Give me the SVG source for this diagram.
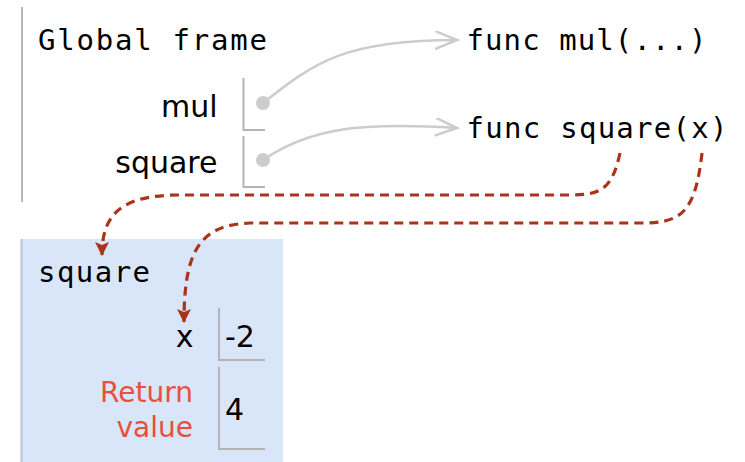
<svg xmlns="http://www.w3.org/2000/svg" width="745" height="462" viewBox="0 0 745 462">
<style>
.mono{font-family:"DejaVu Sans Mono","Liberation Mono",monospace;font-size:29px;fill:#000}
.sans{font-family:"DejaVu Sans","Liberation Sans",sans-serif;font-size:30px;fill:#000}
.val{font-family:"DejaVu Sans","Liberation Sans",sans-serif;font-size:30px;fill:#000}
.ret{font-family:"DejaVu Sans","Liberation Sans",sans-serif;font-size:28px;fill:#e8503a}
.cell{fill:none;stroke:#b4b4b4;stroke-width:2}
.ptr{fill:none;stroke:#cccccc;stroke-width:2.5}
.dot{fill:#cccccc}
.link{fill:none;stroke:#a8341a;stroke-width:3.2;stroke-dasharray:9,6}
</style>
<defs>
<marker id="open" markerUnits="userSpaceOnUse" markerWidth="30" markerHeight="30" refX="22" refY="9" orient="auto">
<path d="M0,0 L22,9 L0,18" fill="none" stroke="#cccccc" stroke-width="2.5"/>
</marker>
<marker id="tri" markerUnits="userSpaceOnUse" markerWidth="20" markerHeight="20" refX="13" refY="7" orient="auto">
<path d="M0,0 L14,7 L0,14 L3,7 Z" fill="#a8341a"/>
</marker>
</defs>
<rect width="745" height="462" fill="#ffffff"/>

<g id="global-frame">
<line x1="22" y1="7" x2="22" y2="202" stroke="#b8b8b8" stroke-width="2"/>
<text class="mono" x="38" y="50" textLength="229" lengthAdjust="spacing">Global frame</text>
<text class="sans" x="217.5" y="117" text-anchor="end">mul</text>
<path class="cell" d="M243.5,78 V130 H265"/>
<circle class="dot" cx="263" cy="103" r="7"/>
<text class="sans" x="217.5" y="173" text-anchor="end">square</text>
<path class="cell" d="M243.5,136 V187 H265"/>
<circle class="dot" cx="263" cy="160" r="7"/>
</g>

<g id="func-mul">
<text class="mono" x="466.5" y="50" textLength="240" lengthAdjust="spacing">func mul(...)</text>
</g>
<g id="func-square">
<text class="mono" x="466.5" y="138" textLength="261" lengthAdjust="spacing">func square(x)</text>
</g>

<g id="square-frame">
<rect x="21" y="239" width="262" height="223" fill="#d9e6fa"/>
<line x1="21.5" y1="239" x2="21.5" y2="462" stroke="#b8c4d4" stroke-width="2"/>
<text class="mono" x="38" y="282" textLength="112" lengthAdjust="spacing">square</text>
<text class="sans" x="193.5" y="347" text-anchor="end">x</text>
<path class="cell" d="M219,308 V360 H265"/>
<text class="val" x="225" y="347">-2</text>
<text class="ret" x="193" y="402" text-anchor="end">Return</text>
<text class="ret" x="193" y="437" text-anchor="end">value</text>
<path class="cell" d="M219,367 V449 H265"/>
<text class="val" x="225" y="420">4</text>
</g>

<g id="connectors">
<path class="ptr" d="M263,103 C315,62 345,40 457,40" marker-end="url(#open)"/>
<path class="ptr" d="M263,160 C310,128 360,122 457,128" marker-end="url(#open)"/>
<path class="link" d="M620,153 C612,190 600,195 570,195 L180,195 C120,195 102,215 102,255" marker-end="url(#tri)"/>
<path class="link" d="M702,153 C695,215 680,223 640,223 L250,223 C200,225 184,250 184,322" marker-end="url(#tri)"/>
</g>
</svg>
